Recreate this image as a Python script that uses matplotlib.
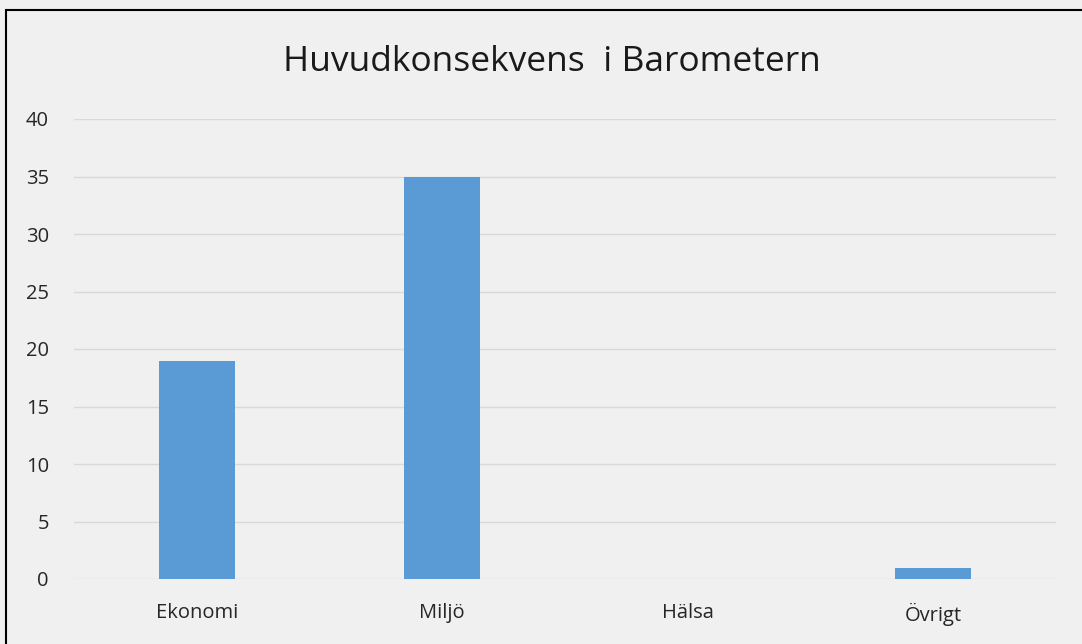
import matplotlib
matplotlib.use("Agg")
import matplotlib.pyplot as plt
from matplotlib.patches import Rectangle

categories = ["Ekonomi", "Miljö", "Hälsa", "Övrigt"]
values = [19, 35, 0, 1]
yticks = [0, 5, 10, 15, 20, 25, 30, 35, 40]
title = "Huvudkonsekvens  i Barometern"

W, H = 1082, 644
fig = plt.figure(figsize=(W / 100, H / 100), dpi=100)
bg = "#f0f0f0"
fig.patch.set_facecolor(bg)

# outer frame (cropped at right/bottom)
fig.patches.append(Rectangle((6 / W, -0.05), 1.2, (H - 10) / H + 0.05,
                             transform=fig.transFigure, fill=False,
                             edgecolor="black", linewidth=1.5))

ax = fig.add_axes([74 / W, 65 / H, (1056 - 74) / W, (579 - 119) / H])
ax.set_facecolor(bg)
x = range(len(categories))
ax.bar(x, values, width=0.31, color="#5b9bd5", zorder=3)
ax.set_xlim(-0.5, len(categories) - 0.5)
ax.set_ylim(0, 40)
ax.set_yticks(yticks)
ax.set_xticks(list(x))
ax.set_xticklabels(categories)
ax.grid(axis="y", color="#d9d9d9", linewidth=1.0, zorder=0)
for s in ax.spines.values():
    s.set_visible(False)
ax.tick_params(axis="both", length=0, labelsize=14.5, colors="#262626")
ax.tick_params(axis="y", pad=18)
ax.tick_params(axis="x", pad=17)
for lab in ax.get_xticklabels() + ax.get_yticklabels():
    lab.set_fontfamily("Open Sans")

fig.text(552 / W, 1 - 62 / H, title, ha="center", va="center",
         fontsize=25.5, color="#1a1a1a", family="Open Sans")

fig.savefig("out.png", dpi=100, facecolor=bg)
